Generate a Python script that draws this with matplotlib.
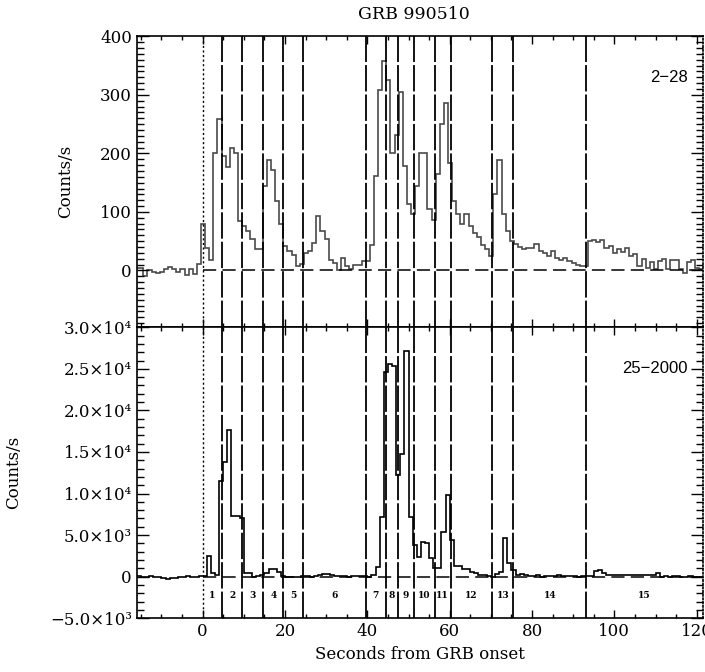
import numpy as np
import matplotlib.pyplot as plt
from matplotlib.ticker import MultipleLocator, FuncFormatter

# 2-28 keV light curve, 1 s bins starting at -16.4 s
soft_start = -16.4
soft_counts = [
    4, 5, -9, 1, -3, -5, -2, 2, 6, 2, -3, 3, -8, 3, -6, 11,
    80, 38, 18, 200, 258, 195, 176, 210, 200, 85,
    76, 67, 53, 36, 36, 145, 188, 172, 119, 79,
    41, 33, 27, 7, 11, 30, 33, 47, 93, 68,
    54, 18, 13, 1, 21, 7, 3, 10, 10, 16,
    16, 44, 162, 309, 357, 326, 200, 231, 304, 179,
    113, 96, 145, 200, 200, 105, 86, 165, 251, 286,
    183, 119, 96, 79, 96, 76, 64, 57, 44, 36,
    24, 130, 188, 96, 67, 50, 45, 40, 36, 38,
    39, 45, 33, 30, 25, 33, 22, 18, 22, 17,
    12, 10, 8, 7, 50, 52, 48, 52, 38, 42,
    30, 36, 32, 38, 24, 28, 8, 20, 5, 15,
    3, 16, 20, 2, 18, 18, 2, -5, 15, 18,
    5, 3,
]

# 25-2000 keV light curve, 1 s bins starting at -16 s
hard_start = -16.0
hard_counts = [
    100, -80, 0, 80, 0, 0, -200, -320, -200, -100, -80, 0, 80, 0, -80, 100,
    100, 2480, 400, 200, 11500, 13800, 17600, 7280, 7280, 7000,
    400, 400, 0, 120, 200, 400, 920, 920, 600, 80,
    -80, -80, 0, 0, 80, 120, 0, 80, 160, 280,
    280, 200, 120, 40, 40, 0, 40, 80, 120, 80,
    0, 200, 1120, 7200, 24600, 25600, 25300, 12200, 14800, 27100,
    7200, 3800, 2400, 4200, 4000, 2200, 1080, 1080, 5320, 9800,
    4400, 1280, 1280, 880, 880, 600, 400, 200, 200, 120,
    0, 320, 600, 4600, 1600, 800, 200, 280, 200, 80,
    120, 240, 0, 120, 80, 40, 200, 40, 40, 80,
    40, 0, 80, 40, 40, 720, 800, 400, 200, 200,
    200, 200, 200, 200, 200, 200, 200, 200, 200, 200,
    400, -40, 80, 0, 80, 40, 0, 0, 40, 0,
    0, 0,
]

# interval boundaries (s) and their labels
boundaries = [4.8, 9.6, 14.7, 19.6, 24.4, 39.6, 44.5, 47.5, 51.3, 56.4,
              60.2, 70.4, 75.4, 93.2]
interval_labels = [str(i) for i in range(1, 16)]

xmin, xmax = -16, 121.5

plt.rcParams['lines.scale_dashes'] = False
plt.rcParams['font.family'] = 'DejaVu Serif'

fig = plt.figure(figsize=(7.05, 6.72), dpi=100)
ax1 = fig.add_axes([0.194, 0.513, 0.803, 0.433])
ax2 = fig.add_axes([0.194, 0.080, 0.803, 0.433])

soft_edges = soft_start + np.arange(len(soft_counts) + 1)
hard_edges = hard_start + np.arange(len(hard_counts) + 1)

ax1.stairs(soft_counts, soft_edges, color='#4a4a4a', lw=1.2, baseline=None)
ax2.stairs(hard_counts, hard_edges, color='black', lw=1.2, baseline=None)

long_dash = (0, (19, 2.2))
for ax in (ax1, ax2):
    ax.set_xlim(xmin, xmax)
    ax.axvline(0, color='black', lw=1.0, ls=(0, (1.5, 1.8)))
    for b in boundaries:
        ax.axvline(b, color='black', lw=1.3, ls=long_dash)
    ax.hlines(0, 0, xmax, color='black', lw=1.1, ls=(0, (9.5, 4.5)))
    ax.xaxis.set_major_locator(MultipleLocator(20))
    ax.xaxis.set_minor_locator(MultipleLocator(5))
    ax.tick_params(which='both', direction='in', top=True, right=True,
                   labelsize=12, width=1.0)
    ax.tick_params(axis='x', which='major', length=6)
    ax.tick_params(axis='x', which='minor', length=3)
    ax.tick_params(axis='y', which='major', length=8.5)
    ax.tick_params(axis='y', which='minor', length=5)
    for s in ax.spines.values():
        s.set_linewidth(1.2)
    ax.spines['right'].set_linestyle(':')

ax1.set_ylim(-97, 400)
ax1.yaxis.set_major_locator(MultipleLocator(100))
ax1.yaxis.set_minor_locator(MultipleLocator(10))
ax1.tick_params(axis='x', labelbottom=False)
ax1.set_ylabel('Counts/s', fontsize=12)
ax1.yaxis.set_label_coords(-0.11, 0.5)
ax1.text(0.973, 0.86, '2\u221228', transform=ax1.transAxes, ha='right',
         va='center', fontsize=12, family='Liberation Sans')

sup = {'3': '\u00b3', '4': '\u2074'}


def sci_fmt(v, pos):
    if v == 0:
        return '0'
    e = int(np.floor(np.log10(abs(v))))
    m = v / 10 ** e
    sign = '\u2212' if m < 0 else ''
    return f'{sign}{abs(m):.1f}\u00d710{sup[str(e)]}'


ax2.set_ylim(-5000, 30000)
ax2.yaxis.set_major_locator(MultipleLocator(5000))
ax2.yaxis.set_minor_locator(MultipleLocator(1000))
ax2.yaxis.set_major_formatter(FuncFormatter(sci_fmt))
ax2.set_ylabel('Counts/s', fontsize=12)
ax2.yaxis.set_label_coords(-0.203, 0.5)
ax2.set_xlabel('Seconds from GRB onset', fontsize=12, labelpad=4)
ax2.text(0.973, 0.86, '25\u22122000', transform=ax2.transAxes, ha='right',
         va='center', fontsize=12, family='Liberation Sans')

edges = [0] + boundaries + [xmax]
for i, lab in enumerate(interval_labels):
    ax2.text((edges[i] + edges[i + 1]) / 2, -2300, lab, ha='center',
             va='center', fontsize=6.5, fontweight='bold')

fig.text(0.587, 0.979, 'GRB 990510', ha='center', va='center', fontsize=12.5)

fig.savefig('out.png', dpi=100)
